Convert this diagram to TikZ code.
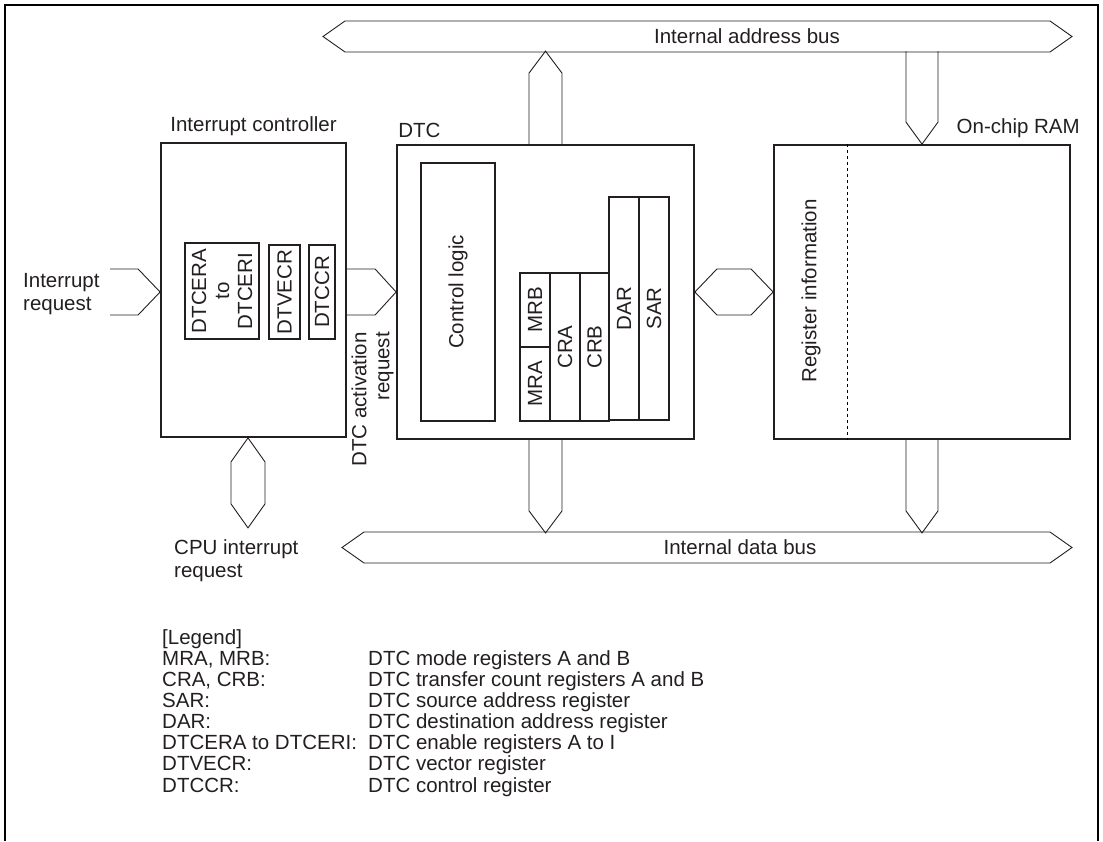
\documentclass[tikz,border=0pt]{standalone}
\usepackage{fontspec}
\setmainfont{Liberation Sans}
\usetikzlibrary{calc,positioning}
\definecolor{ink}{HTML}{231F20}

\begin{document}
\begin{tikzpicture}[x=1pt,y=-1pt,
every node/.style={font=\fontsize{20.5}{23}\selectfont,inner sep=0pt,text=ink},
blk/.style={draw=ink,line width=1.8pt,fill=white},
reg/.style={draw=ink,line width=1.6pt,rotate=90,align=center},
bus/.style={draw=ink,line width=0.9pt},
frm/.style={draw=black,line width=2.6pt}]
\useasboundingbox (0,0) rectangle (1103,841);
\draw[frm] (5,841)--(5,5)--(1098,5)--(1098,841);

% blocks
\node[blk,minimum width=185,minimum height=294] (intc) at (253.5,290) {};
\node[blk,minimum width=297,minimum height=294] (dtc) at (545.5,292) {};
\node[blk,minimum width=296,minimum height=294] (ram) at (922,292) {};
\node[above=6pt of intc] (intclbl) {Interrupt controller};
\node[above right=6pt and 2pt of dtc.north west] (dtclbl) {DTC};
\node[above left=6pt and -9pt of ram.north east] (ramlbl) {On-chip RAM};

% interrupt controller registers
\node[reg,minimum width=96,minimum height=74] (dtcer) at (222,291) {DTCERA\\to\\DTCERI};
\node[reg,minimum width=94,minimum height=31] (dtvecr) at (284.5,292) {DTVECR};
\node[reg,minimum width=94,minimum height=26] (dtccr) at (322,292) {DTCCR};

% DTC contents
\node[blk,rotate=90,minimum width=258,minimum height=74] (ctrl) at (458,292) {Control logic};
\node[reg,minimum width=74,minimum height=30] (mra) at (535,384) {MRA};
\node[reg,minimum width=74,minimum height=30] (mrb) at (535,310) {MRB};
\node[reg,minimum width=148,minimum height=30] (cra) at (565,347) {CRA};
\node[reg,minimum width=148,minimum height=29] (crb) at (594.5,347) {CRB};
\node[reg,minimum width=223,minimum height=30] (dar) at (624,308.5) {DAR};
\node[reg,minimum width=223,minimum height=30] (sar) at (654,308.5) {SAR};

% RAM contents
\node[rotate=90] (reginfo) at (811,291) {Register information};
\draw[dashed,line width=1pt] ($(ram.north west)!0.25!(ram.north east)$)--($(ram.south west)!0.25!(ram.south east)$);

% buses
\draw[bus] (323,36.5)--(345,21)--(1050,21)--(1072,36.5)--(1050,52)--(345,52)--cycle;
\node (abus) at (747,36.5) {Internal address bus};
\draw[bus] (342,547.5)--(364,532)--(1050,532)--(1072,547.5)--(1050,563)--(364,563)--cycle;
\node (dbus) at (740,547.5) {Internal data bus};

\draw[bus] ($(dtc.north)+(-16.5,0)$)--++(0,-71)--($(dtc.north)+(0,-93)$)--($(dtc.north)+(16.5,-71)$)--++(0,71);
\draw[bus] ($(dtc.south)+(-16.5,0)$)--++(0,71)--($(dtc.south)+(0,93)$)--($(dtc.south)+(16.5,71)$)--++(0,-71);
\draw[bus] ($(ram.north)+(-16,-93)$)--++(0,71)--(ram.north)--($(ram.north)+(16,-22)$)--++(0,-71);
\draw[bus] ($(ram.south)+(-16,0)$)--++(0,71)--($(ram.south)+(0,93)$)--($(ram.south)+(16,71)$)--++(0,-71);

% request paths
\coordinate (irq) at ($(intc.west)+(-50,2)$);
\draw[bus] ($(irq)+(0,-23)$)--($(intc.west)+(-22,-21)$)--($(intc.west)+(0,2)$)--($(intc.west)+(-22,25)$)--($(irq)+(0,23)$);
\node[align=left,anchor=west] (irqtxt) at (23,294) {Interrupt\\request};
\draw[bus] ($(dtc.west)+(-51,-23)$)--($(dtc.west)+(-21,-23)$)--(dtc.west)--($(dtc.west)+(-21,23)$)--($(dtc.west)+(-51,23)$);
\node[rotate=90,align=right,anchor=east] (actxt) at (372.5,332) {DTC activation\\request};
\draw[bus] (dtc.east)--++(22,-23)--($(ram.west)+(-22,-23)$)--(ram.west)--($(ram.west)+(-22,23)$)--($(dtc.east)+(22,23)$)--cycle;
\coordinate (cpu) at ($(intc.south)+(-5.5,0)$);
\draw[bus] (cpu)--++(17,24)--++(0,42)--++(-17,24)--++(-17,-24)--++(0,-42)--cycle;
\node[align=left,anchor=west] (cpureq) at (174,560.5) {CPU interrupt\\request};

% legend
\node[anchor=north west,font=\fontsize{20.5}{21}\selectfont] (legend) at (162,629) {%
\begin{tabular}{@{}p{206pt}@{}l@{}}
\multicolumn{2}{@{}l@{}}{[Legend]}\\
MRA, MRB: & DTC mode registers A and B\\
CRA, CRB: & DTC transfer count registers A and B\\
SAR: & DTC source address register\\
DAR: & DTC destination address register\\
DTCERA to DTCERI: & DTC enable registers A to I\\
DTVECR: & DTC vector register\\
DTCCR: & DTC control register
\end{tabular}};
\end{tikzpicture}
\end{document}
